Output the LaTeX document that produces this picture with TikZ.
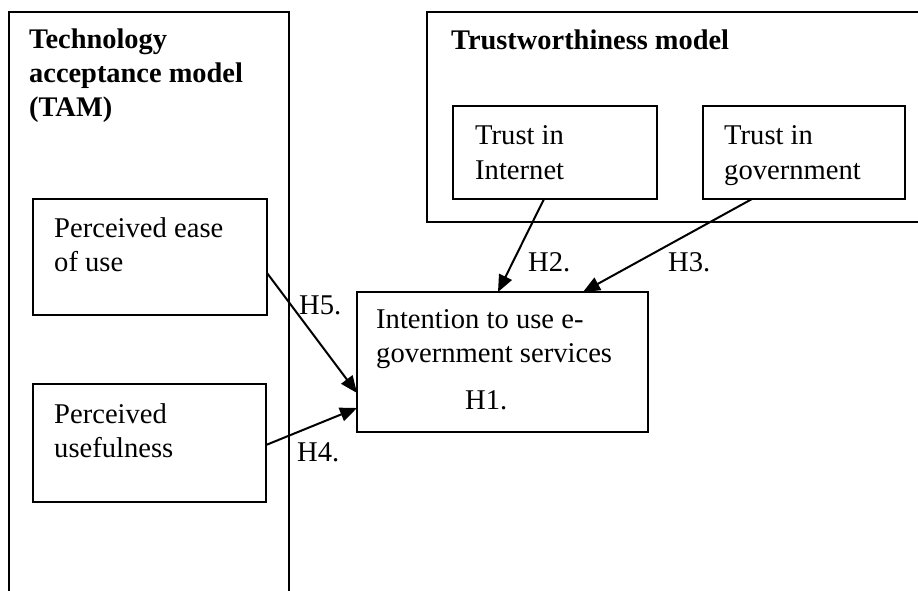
\documentclass[tikz,border=0pt]{standalone}
\usepackage{fontspec}
\setmainfont{Liberation Serif}
\usetikzlibrary{arrows.meta,calc}
\begin{document}
\begin{tikzpicture}[x=1pt,y=-1pt,
  frame/.style={line width=2pt},
  box/.style={draw,line width=2pt,rectangle,inner sep=0pt,outer sep=0pt,anchor=north west},
  txt/.style={anchor=base west,inner sep=0pt,font=\fontsize{28.6}{34}\selectfont},
  head/.style={txt,font=\fontsize{28.4}{34}\selectfont\bfseries},
  arr/.style={line width=2pt,-{Triangle[length=17pt,width=14pt]}}]
\useasboundingbox (0,0) rectangle (918,591);
% outer frames (cut off at the picture edge)
\draw[frame] (9,591) -- (9,12) -- (289,12) -- (289,591);
\draw[frame] (918,12) -- (427,12) -- (427,222) -- (918,222);
% headings
\node[head] (h1a) at (29,49) {Technology};
\node[head] (h1b) at (29,83) {acceptance model};
\node[head] (h1c) at (29,117) {(TAM)};
\node[head] (h2a) at (451,50) {Trustworthiness model};
% boxes
\node[box,minimum width=234,minimum height=116] (pe) at (33,199) {};
\node[box,minimum width=233,minimum height=118] (pu) at (33,384) {};
\node[box,minimum width=204,minimum height=93] (ti) at (453,106) {};
\node[box,minimum width=202,minimum height=93] (tg) at (703,106) {};
\node[box,minimum width=291,minimum height=140] (in) at (357,292) {};
% box texts
\node[txt] (pe1) at (54,237) {Perceived ease};
\node[txt] (pe2) at (54,271) {of use};
\node[txt] (pu1) at (54,423) {Perceived};
\node[txt] (pu2) at (54,457) {usefulness};
\node[txt] (ti1) at (475,145) {Trust in};
\node[txt] (ti2) at (475,179) {Internet};
\node[txt] (tg1) at (724,145) {Trust in};
\node[txt] (tg2) at (724,179) {government};
\node[txt] (in1) at (376,328) {Intention to use e-};
\node[txt] (in2) at (376,362) {government services};
\node[txt] (l1) at (465,409) {H1.};
% arrows
\draw[arr] ($(ti.south west)+(91,0)$) -- ($(in.north west)+(141,0)$);
\draw[arr] ($(tg.south west)+(49,0)$) -- ($(in.north west)+(226,0)$);
\draw[arr] ($(pe.north east)+(0,74)$) -- ($(in.north west)+(0,101)$);
\draw[arr] ($(pu.north east)+(0,61)$) -- ($(in.north west)+(0,116)$);
% labels
\node[txt] (l2) at (528,271) {H2.};
\node[txt] (l3) at (668,271) {H3.};
\node[txt] (l5) at (299,314) {H5.};
\node[txt] (l4) at (297,461) {H4.};
\end{tikzpicture}
\end{document}
